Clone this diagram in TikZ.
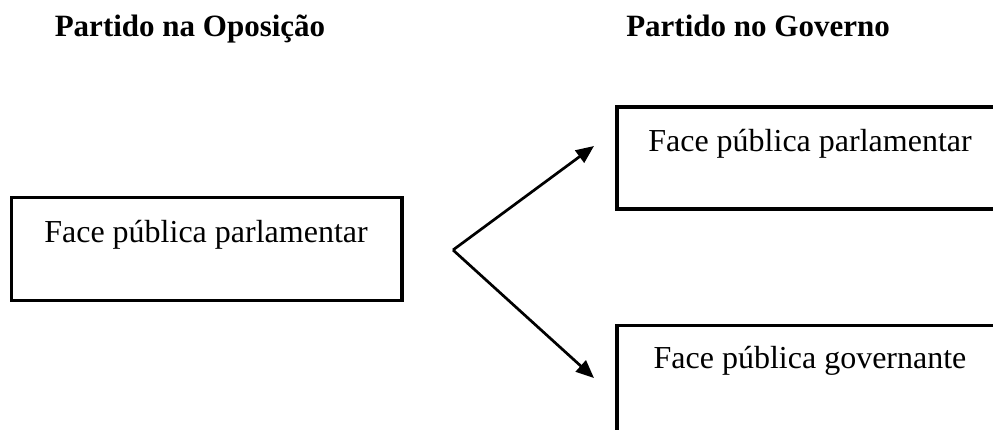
\documentclass[tikz,border=0pt]{standalone}
\usepackage{fontspec}
\setmainfont{Liberation Serif}
\usetikzlibrary{arrows.meta}
\begin{document}
\begin{tikzpicture}[x=1pt,y=-1pt,
  boxshape/.style={draw=black, line width=3.3pt, rectangle, outer sep=0pt, inner sep=0pt, anchor=north west},
  label/.style={anchor=base, inner sep=0pt, font=\fontsize{32}{38}\selectfont},
  title/.style={anchor=base, inner sep=0pt, font=\fontsize{31}{38}\selectfont\bfseries},
  arr/.style={line width=2.7pt, -{Triangle[length=18pt,width=15pt]}}]
\clip (0,0) rectangle (993,430);
\fill[white] (0,0) rectangle (993,430);
% titles
\node[title] (t1) at (190,37) {Partido na Oposição};
\node[title] (t2) at (758,37) {Partido no Governo};
% boxes
\node[boxshape, minimum width=390.5pt, minimum height=103pt] (b1) at (11.5,197.5) {};
\node[boxshape, minimum width=450pt, minimum height=102pt] (b2) at (617,107) {};
\node[boxshape, minimum width=450pt, minimum height=150pt] (b3) at (617,325.5) {};
% texts
\node[label] (l1) at (206,243) {Face pública parlamentar};
\node[label] (l2) at (810,152) {Face pública parlamentar};
\node[label] (l3) at (810,368) {Face pública governante};
% arrows
\coordinate (s) at (453,250);
\coordinate (e1) at (594,146);
\coordinate (e2) at (594,378);
\draw[arr] (s) -- (e1);
\draw[arr] (s) -- (e2);
\end{tikzpicture}
\end{document}
